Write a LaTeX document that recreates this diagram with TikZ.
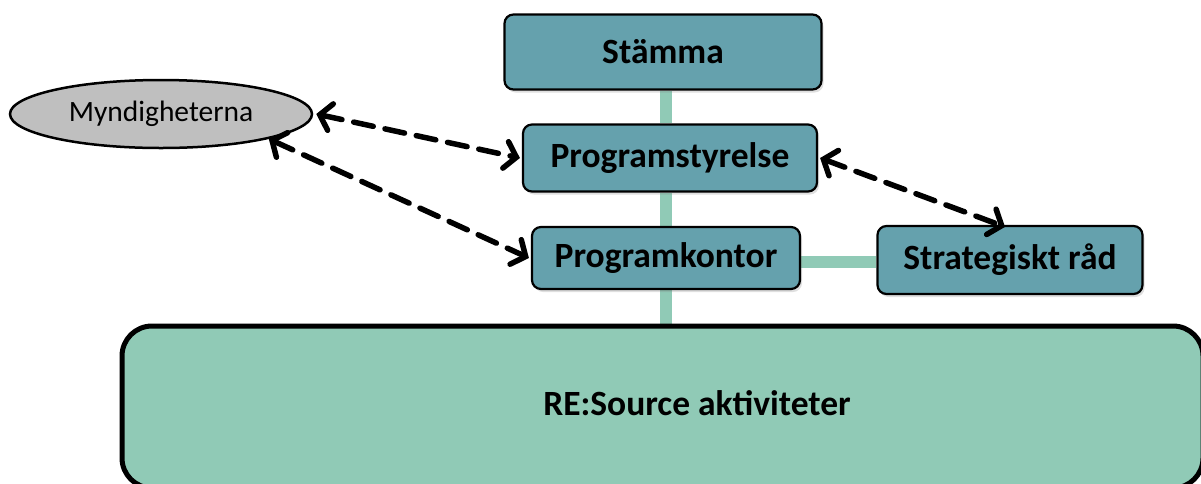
\documentclass[tikz,border=0pt]{standalone}
\usepackage{fontspec}
\setmainfont{Carlito}
\usetikzlibrary{shapes.geometric,arrows.meta,shadows,calc,backgrounds}
\definecolor{teal1}{HTML}{65A1AD}
\definecolor{mint}{HTML}{90CAB6}
\definecolor{ellgray}{HTML}{BFBFBF}
\tikzset{
  box/.style={draw=black, line width=2.2pt, fill=teal1, rounded corners=9pt,
    inner sep=0pt, font=\fontsize{35.5}{40}\selectfont\bfseries,
    drop shadow={opacity=0.25, shadow xshift=2pt, shadow yshift=-3pt}},
  conn/.style={draw=mint, line width=12pt},
  darrow/.style={line width=5.5pt, dash pattern=on 20pt off 12pt, line cap=round,
    {Straight Barb[length=11pt,width=27pt,line cap=round]}-{Straight Barb[length=11pt,width=27pt,line cap=round]}}
}
\begin{document}
\begin{tikzpicture}[x=1pt,y=-1pt]
\useasboundingbox (0,0) rectangle (1201,483);
% nodes
\node[box, minimum width=317pt, minimum height=75pt] (st) at (663,52) {Stämma};
\node[box, minimum width=294pt, minimum height=67pt] (ps) at (670,158) {Programstyrelse};
\node[box, minimum width=268pt, minimum height=62pt] (pk) at (666,258) {Programkontor};
\node[box, minimum width=265pt, minimum height=68pt] (sr) at (1010,260) {Strategiskt råd};
\node[draw=black, line width=2.5pt, fill=ellgray, ellipse, minimum width=302pt, minimum height=68pt, inner sep=0pt,
  font=\fontsize{29.5}{34}\selectfont] (my) at (161,114) {Myndigheterna};
\node[draw=black, line width=5pt, fill=mint, rounded corners=30pt, minimum width=1081pt, minimum height=162pt, inner sep=0pt] (re) at (662.5,407) {};
\node[font=\fontsize{35.5}{40}\selectfont\bfseries, inner sep=0pt] (relabel) at (697,403) {RE:Source aktiviteter};
% connectors (behind)
\begin{scope}[on background layer]
\draw[conn] (pk |- st.south) -- (pk |- ps.north);
\draw[conn] (pk |- ps.south) -- (pk.north);
\draw[conn] (pk.south) -- (pk |- re.north);
\draw[conn] ([yshift=-4pt]pk.east) -- ([yshift=-4pt]pk.east -| sr.west);
\end{scope}
% dashed arrows
\draw[darrow] ([xshift=3pt]my.east) -- ([xshift=-2pt]ps.west);
\draw[darrow] (my.-13) -- ([xshift=-2pt]pk.west);
\draw[darrow] ([xshift=2pt]ps.east) -- ([xshift=-5pt,yshift=-2pt]sr.north);
\end{tikzpicture}
\end{document}
